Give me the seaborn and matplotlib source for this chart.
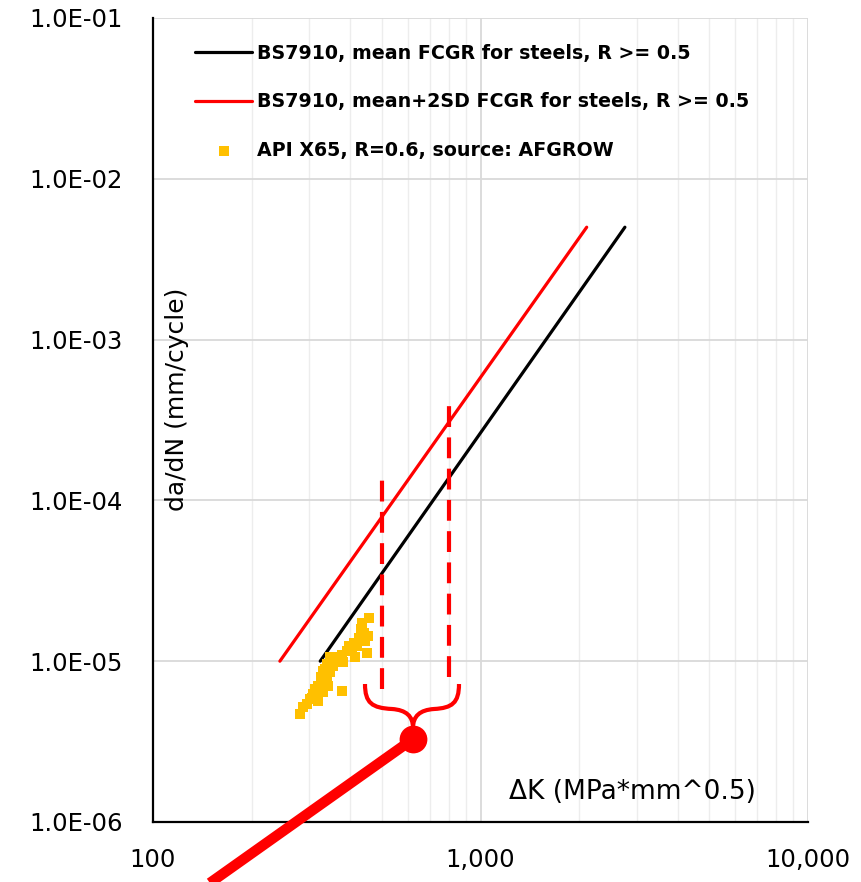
import numpy as np
import pandas as pd
import matplotlib
matplotlib.use("Agg")
import matplotlib.pyplot as plt
import seaborn as sns
from matplotlib.ticker import FixedLocator, FuncFormatter, NullFormatter
from matplotlib.path import Path
from matplotlib.patches import PathPatch
from matplotlib.lines import Line2D

# ---------------- data ----------------
mean_dk = [324, 2760]
mean_dadn = [1.0e-5, 5.0e-3]
sd2_dk = [244, 2110]
sd2_dadn = [1.0e-5, 5.0e-3]

x65_dk = [456, 434, 431, 453, 444, 450, 419, 404, 390, 377, 364, 347, 339, 355,
          331, 347, 339, 327, 320, 343, 312, 331, 309, 302, 320, 295, 288, 281,
          377, 380, 414, 440, 425, 410, 398, 315, 325, 305, 335]
x65_dadn = [1.85e-5, 1.72e-5, 1.58e-5, 1.43e-5, 1.33e-5, 1.12e-5, 1.24e-5, 1.19e-5,
            1.15e-5, 1.10e-5, 1.06e-5, 1.06e-5, 9.58e-6, 9.31e-6, 8.67e-6, 8.55e-6,
            8.07e-6, 7.52e-6, 7.00e-6, 7.00e-6, 6.70e-6, 6.41e-6, 6.23e-6, 5.80e-6,
            5.64e-6, 5.40e-6, 5.18e-6, 4.69e-6, 6.52e-6, 9.86e-6, 1.06e-5, 1.50e-5,
            1.40e-5, 1.30e-5, 1.25e-5, 6.0e-6, 8.0e-6, 5.9e-6, 9.0e-6]

range_dk = [500, 800]
range_top = [1.4e-4, 4.4e-4]
range_bottom = [6.7e-6, 8.0e-6]

label_mean = "BS7910, mean FCGR for steels, R >= 0.5"
label_sd2 = "BS7910, mean+2SD FCGR for steels, R >= 0.5"
label_x65 = "API X65, R=0.6, source: AFGROW"
xlabel = "\u0394K (MPa*mm^0.5)"
ylabel = "da/dN (mm/cycle)"
xticks = [100, 1000, 10000]
yticks = [1e-6, 1e-5, 1e-4, 1e-3, 1e-2, 1e-1]

# ---------------- style ----------------
sns.set_theme(style="white")
plt.rcParams['font.family'] = ['DejaVu Sans']

W, H = 861, 882
fig = plt.figure(figsize=(W / 100, H / 100), dpi=100)
ax = fig.add_axes([153 / W, 1 - 822 / H, (808 - 153) / W, (822 - 18) / H])

df_mean = pd.DataFrame({"dk": mean_dk, "dadn": mean_dadn})
df_sd2 = pd.DataFrame({"dk": sd2_dk, "dadn": sd2_dadn})
df_x65 = pd.DataFrame({"dk": x65_dk, "dadn": x65_dadn})

sns.lineplot(data=df_mean, x="dk", y="dadn", ax=ax, color="black", lw=2.3,
             label=label_mean, zorder=3)
sns.lineplot(data=df_sd2, x="dk", y="dadn", ax=ax, color="#FF0000", lw=2.3,
             label=label_sd2, zorder=3)
sns.scatterplot(data=df_x65, x="dk", y="dadn", ax=ax, color="#FFC000", marker="s",
                s=55, linewidth=0, label=label_x65, zorder=4)

# dashed range lines
for xv, yt, yb in zip(range_dk, range_top, range_bottom):
    ax.plot([xv, xv], [yb, yt], color="#FF0000", lw=3, ls=(0, (5, 2.5)), zorder=5)

ax.set_xscale("log")
ax.set_yscale("log")
ax.set_xlim(100, 10000)
ax.set_ylim(1e-6, 1e-1)

ax.xaxis.set_major_locator(FixedLocator(xticks))
ax.xaxis.set_minor_locator(FixedLocator([m * 10 ** e for e in (2, 3) for m in range(2, 10)]))
ax.xaxis.set_major_formatter(FuncFormatter(lambda v, p: f"{int(round(v)):,}"))
ax.xaxis.set_minor_formatter(NullFormatter())
ax.yaxis.set_major_locator(FixedLocator(yticks))
ax.yaxis.set_minor_locator(FixedLocator([]))
ax.yaxis.set_major_formatter(FuncFormatter(lambda v, p: f"{v:.1E}"))

ax.grid(which="major", axis="both", color="#D9D9D9", lw=1.3, zorder=0)
ax.grid(which="minor", axis="x", color="#EDEDED", lw=1.0, zorder=0)
ax.set_axisbelow(True)

for s in ("top", "right"):
    ax.spines[s].set_visible(False)
for s in ("left", "bottom"):
    ax.spines[s].set_color("black")
    ax.spines[s].set_linewidth(1.6)

ax.tick_params(axis="both", which="both", length=0, labelsize=17.5, colors="black")
ax.tick_params(axis="y", pad=22)
ax.tick_params(axis="x", pad=19)

ax.set_xlabel(xlabel, fontsize=19, color="black")
ax.xaxis.set_label_coords((632 - 153) / 655, (822 - 792) / 804)
ax.xaxis.label.set_va("center")
ax.set_ylabel(ylabel, fontsize=18, color="black")
ax.yaxis.set_label_coords((177 - 153) / 655, (822 - 399) / 804)
ax.yaxis.label.set_va("center")

leg = ax.legend(loc="upper left", bbox_to_anchor=(195 / W, 1 - 44 / H),
                bbox_transform=fig.transFigure, frameon=False,
                prop={"family": "DejaVu Sans", "weight": "bold", "size": 13.7},
                handlelength=3.0, handletextpad=0.28, labelspacing=1.55,
                borderpad=0, borderaxespad=0, markerscale=1.0)
for t in leg.get_texts():
    t.set_color("black")

# ---------------- annotation: brace, dot, thick pointer ----------------
def fxy(px, py):
    return (px / W, 1 - py / H)

verts = [fxy(365, 684), fxy(365, 703), fxy(372, 708), fxy(392, 709),
         fxy(406, 710), fxy(413, 716), fxy(413, 728),
         fxy(413, 716), fxy(420, 710), fxy(434, 709),
         fxy(452, 708), fxy(459, 703), fxy(459, 684)]
codes = [Path.MOVETO] + [Path.CURVE4] * 12
brace = PathPatch(Path(verts, codes), transform=fig.transFigure, fill=False,
                  edgecolor="#FF0000", lw=3, zorder=6)
fig.add_artist(brace)

p0 = fxy(413, 739)
p1 = fxy(200, 890)
fig.add_artist(Line2D([p0[0], p1[0]], [p0[1], p1[1]], transform=fig.transFigure,
                      color="#FF0000", lw=7.5, solid_capstyle="butt", zorder=6))
fig.add_artist(Line2D([p0[0]], [p0[1]], transform=fig.transFigure, marker="o",
                      ms=20, color="#FF0000", markeredgewidth=0, zorder=7))

fig.savefig("out.png", dpi=100)
